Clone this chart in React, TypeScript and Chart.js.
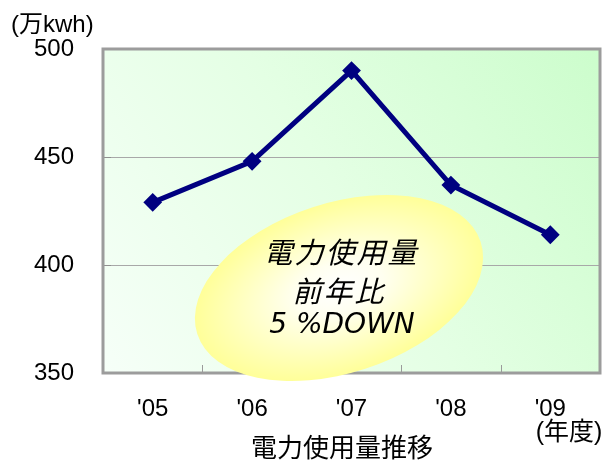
import React, { useEffect, useRef } from "react";
import { Chart, registerables } from "chart.js";

Chart.register(...registerables);

const categories = ["'05", "'06", "'07", "'08", "'09"];
const usage = [429, 448, 490, 437, 414];
const yTicks = [350, 400, 450, 500];
const unitLabel = "(万kwh)";
const yearLabel = "(年度)";
const xTitle = "電力使用量推移";
const noteLines = ["電力使用量", "前年比", "5 %DOWN"];

const FONT = "'Liberation Sans', Arial, 'Noto Sans CJK JP', sans-serif";

const decor = {
  id: "decor",
  beforeDraw(chart: any) {
    const { ctx, chartArea: a } = chart;
    ctx.save();
    const g = ctx.createLinearGradient(a.left, a.bottom, a.right, a.top);
    g.addColorStop(0, "#f6fff8");
    g.addColorStop(0.5, "#e4ffe4");
    g.addColorStop(1, "#ccfdcc");
    ctx.fillStyle = g;
    ctx.fillRect(a.left, a.top, a.right - a.left, a.bottom - a.top);
    ctx.restore();
  },
  afterDraw(chart: any) {
    const { ctx, chartArea: a, scales } = chart;
    const x = scales.x;
    const y = scales.y;
    ctx.save();
    // category boundary tick marks
    ctx.strokeStyle = "#9a9a9a";
    ctx.lineWidth = 1;
    for (let i = 1; i < categories.length; i++) {
      const px = Math.round((x.getPixelForValue(i - 1) + x.getPixelForValue(i)) / 2) + 0.5;
      ctx.beginPath();
      ctx.moveTo(px, a.bottom);
      ctx.lineTo(px, a.bottom - 8);
      ctx.stroke();
    }
    // y inner tick marks
    ctx.strokeStyle = "#909090";
    for (const v of yTicks) {
      const py = Math.round(y.getPixelForValue(v)) + 0.5;
      ctx.beginPath();
      ctx.moveTo(a.left, py);
      ctx.lineTo(a.left + 8, py);
      ctx.stroke();
    }
    // border
    ctx.strokeStyle = "#9c9c9c";
    ctx.lineWidth = 3;
    ctx.strokeRect(a.left, a.top, a.right - a.left, a.bottom - a.top);

    // ellipse
    const cx = 339, cy = 288;
    ctx.save();
    ctx.translate(cx, cy);
    ctx.rotate((-18 * Math.PI) / 180);
    ctx.scale(1, 85 / 149);
    const rg = ctx.createRadialGradient(0, 0, 0, 0, 0, 149);
    rg.addColorStop(0, "#ffffff");
    rg.addColorStop(0.3, "#fffff0");
    rg.addColorStop(1, "#ffff99");
    ctx.fillStyle = rg;
    ctx.beginPath();
    ctx.arc(0, 0, 149, 0, Math.PI * 2);
    ctx.fill();
    ctx.restore();

    // note text
    ctx.fillStyle = "#000000";
    ctx.textAlign = "center";
    ctx.textBaseline = "middle";
    ctx.font = "italic 29px 'Noto Sans CJK JP', 'DejaVu Sans', sans-serif";
    (ctx as any).letterSpacing = "2px";
    ctx.fillText(noteLines[0], 341, 252);
    ctx.fillText(noteLines[1], 339, 291);
    ctx.font = "italic 28px 'DejaVu Sans', sans-serif";
    (ctx as any).letterSpacing = "0px";
    ctx.fillText(noteLines[2], 342, 326);

    // other labels
    ctx.font = "24px " + FONT;
    ctx.textAlign = "left";
    ctx.fillText(unitLabel, 11, 25);
    ctx.textAlign = "center";
    ctx.font = "25px " + FONT;
    ctx.fillText(yearLabel, 569, 433);
    ctx.font = "26px " + FONT;
    ctx.fillText(xTitle, 342, 450);
    ctx.restore();
  },
};

export default function App() {
  const ref = useRef<HTMLCanvasElement>(null);
  useEffect(() => {
    document.body.style.margin = "0";
    const chart = new Chart(ref.current!, {
      type: "line",
      data: {
        labels: categories,
        datasets: [
          {
            data: usage,
            borderColor: "#000080",
            backgroundColor: "#000080",
            borderWidth: 5,
            pointStyle: "rectRot",
            pointRadius: 8,
            pointBorderWidth: 2,
            pointBorderColor: "#000080",
            pointBackgroundColor: "#000080",
            tension: 0,
          },
        ],
      },
      options: {
        animation: false,
        responsive: false,
        layout: { padding: { left: 0, right: 10, top: 49, bottom: 0 } },
        plugins: { legend: { display: false }, tooltip: { enabled: false } },
        scales: {
          x: {
            offset: true,
            grid: { display: false },
            border: { display: false },
            ticks: { color: "#000", font: { size: 24, family: FONT }, padding: 14, maxRotation: 0 },
            afterFit: (s: any) => { s.height = 91; },
          },
          y: {
            min: 350,
            max: 500,
            afterBuildTicks: (s: any) => { s.ticks = yTicks.map((v) => ({ value: v })); },
            grid: { color: "#a8a8a8", lineWidth: 1, drawTicks: false },
            border: { display: false },
            ticks: { color: "#000", font: { size: 24, family: FONT }, padding: 29 },
            afterFit: (s: any) => { s.width = 103; },
          },
        },
      },
      plugins: [decor],
    });
    return () => chart.destroy();
  }, []);
  return <canvas ref={ref} width={610} height={464} style={{ display: "block" }} />;
}
